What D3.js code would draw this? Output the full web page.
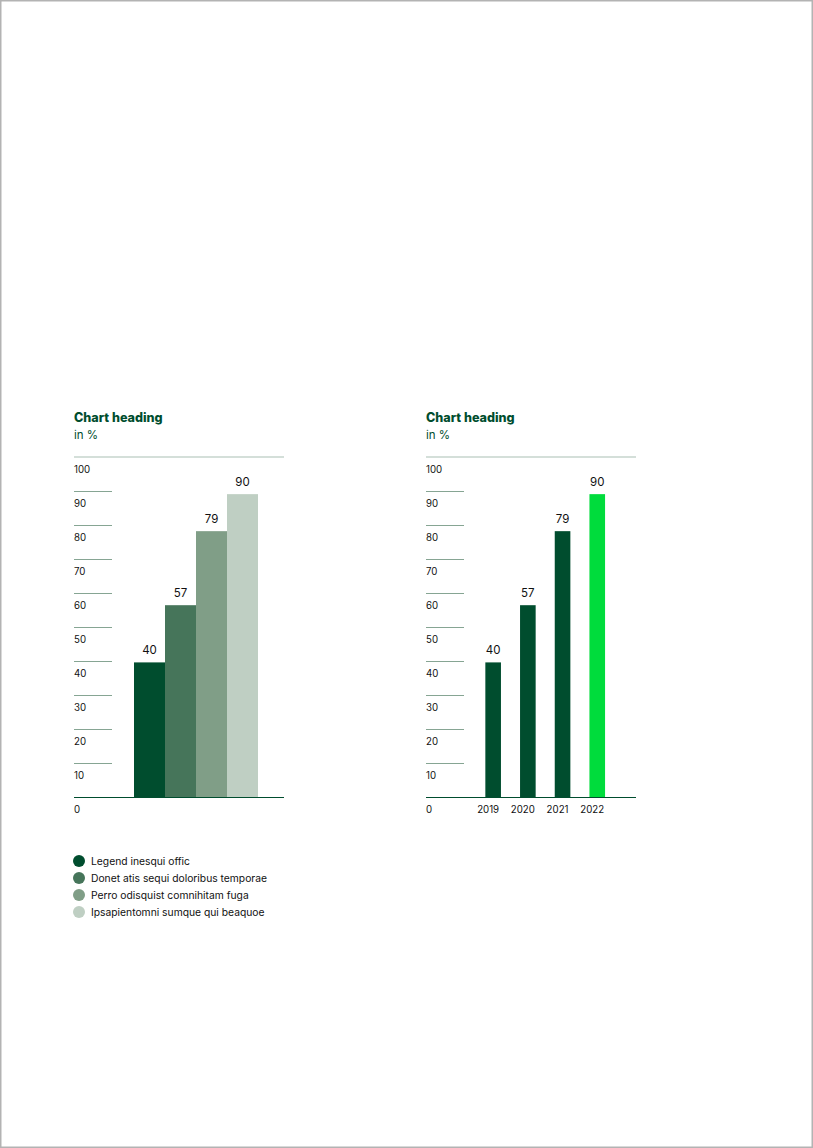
<!DOCTYPE html>
<html>
<head>
<meta charset="utf-8">
<script src="https://d3js.org/d3.v7.min.js"></script>
<style>
    html, body { margin: 0; padding: 0; background: #fff; }
    svg { display: block; font-family: Inter, "Noto Sans", sans-serif; }
</style>
</head>
<body>
<script>
    // data
    var values = [40, 57, 79, 90];
    var years = ["2019", "2020", "2021", "2022"];
    var legendLabels = [
        "Legend inesqui offic",
        "Donet atis sequi doloribus temporae",
        "Perro odisquist comnihitam fuga",
        "Ipsapientomni sumque qui beaquoe"
    ];
    var yTicks = [0, 10, 20, 30, 40, 50, 60, 70, 80, 90, 100];

    var greens = ["#004d2e", "#46755a", "#809e87", "#bfcfc3"];
    var darkGreen = "#004d2e";
    var brightGreen = "#00dc3c";
    var tickColor = "#86a593";
    var topLineColor = "#c6d4cd";

    var W = 813, H = 1148;

    var svg = d3.select("body")
        .append("svg")
        .attr("width", W)
        .attr("height", H);

    // page border
    svg.append("rect")
        .attr("x", 0.75).attr("y", 0.75)
        .attr("width", W - 1.5).attr("height", H - 1.5)
        .attr("fill", "none")
        .attr("stroke", "#b3b3b3")
        .attr("stroke-width", 1.5);

    var y = d3.scaleLinear().domain([0, 100]).range([797, 457]);
    // bars in the original sit a touch lower than the grid
    var barY = d3.scaleLinear().domain([0, 100]).range([797, 460.5]);

    // draws heading, y grid and labels; returns group
    function chartFrame(x0) {
        var g = svg.append("g").attr("transform", "translate(" + x0 + ",0)");

        g.append("text")
            .attr("x", 0).attr("y", 422)
            .attr("font-size", 12.6)
            .attr("font-weight", 800)
            .attr("fill", darkGreen)
            .text("Chart heading");
        g.append("text")
            .attr("x", 0).attr("y", 439)
            .attr("font-size", 11.5)
            .attr("fill", darkGreen)
            .text("in %");

        // top rule
        g.append("line")
            .attr("x1", 0).attr("x2", 210)
            .attr("y1", y(100)).attr("y2", y(100))
            .attr("stroke", topLineColor)
            .attr("stroke-width", 1.5);

        // short tick lines
        g.selectAll(".tk")
            .data(yTicks.filter(function(d) { return d > 0 && d < 100; }))
            .enter().append("line")
            .attr("x1", 0).attr("x2", 38)
            .attr("y1", function(d) { return y(d) + 0.5; })
            .attr("y2", function(d) { return y(d) + 0.5; })
            .attr("stroke", tickColor)
            .attr("stroke-width", 1);

        // tick labels below each line
        g.selectAll(".tl")
            .data(yTicks)
            .enter().append("text")
            .attr("x", 0)
            .attr("y", function(d) { return y(d) + 16; })
            .attr("font-size", 9.7)
            .attr("fill", "#111")
            .text(function(d) { return d; });

        return g;
    }

    function baseline(g) {
        g.append("line")
            .attr("x1", 0).attr("x2", 210)
            .attr("y1", y(0) + 0.5).attr("y2", y(0) + 0.5)
            .attr("stroke", darkGreen)
            .attr("stroke-width", 1.2);
    }

    // left chart: grouped bars
    var g1 = chartFrame(74);
    var x1 = d3.scaleBand().domain(legendLabels).range([60, 184]).padding(0);

    g1.selectAll(".bar")
        .data(values)
        .enter().append("rect")
        .attr("x", function(d, i) { return x1(legendLabels[i]); })
        .attr("y", function(d) { return barY(d); })
        .attr("width", x1.bandwidth())
        .attr("height", function(d) { return barY(0) - barY(d); })
        .attr("fill", function(d, i) { return greens[i]; });

    g1.selectAll(".val")
        .data(values)
        .enter().append("text")
        .attr("x", function(d, i) { return x1(legendLabels[i]) + x1.bandwidth() / 2; })
        .attr("y", function(d) { return barY(d) - 8; })
        .attr("text-anchor", "middle")
        .attr("font-size", 11.5)
        .attr("fill", "#111")
        .text(function(d) { return d; });

    baseline(g1);

    // legend
    var leg = svg.append("g").attr("transform", "translate(79,861)");
    leg.selectAll("circle")
        .data(legendLabels)
        .enter().append("circle")
        .attr("cx", 0)
        .attr("cy", function(d, i) { return i * 17; })
        .attr("r", 6)
        .attr("fill", function(d, i) { return greens[i]; });
    leg.selectAll("text")
        .data(legendLabels)
        .enter().append("text")
        .attr("x", 12)
        .attr("y", function(d, i) { return i * 17 + 3.5; })
        .attr("font-size", 10.3)
        .attr("fill", "#111")
        .text(function(d) { return d; });

    // right chart: yearly bars
    var g2 = chartFrame(426);
    var x2 = d3.scaleBand().domain(years).range([49.8, 188.6]).paddingInner(0.55).paddingOuter(0.275);

    g2.selectAll(".bar")
        .data(values)
        .enter().append("rect")
        .attr("x", function(d, i) { return x2(years[i]); })
        .attr("y", function(d) { return barY(d); })
        .attr("width", x2.bandwidth())
        .attr("height", function(d) { return barY(0) - barY(d); })
        .attr("fill", function(d, i) { return i === values.length - 1 ? brightGreen : darkGreen; });

    g2.selectAll(".val")
        .data(values)
        .enter().append("text")
        .attr("x", function(d, i) { return x2(years[i]) + x2.bandwidth() / 2; })
        .attr("y", function(d) { return barY(d) - 8; })
        .attr("text-anchor", "middle")
        .attr("font-size", 11.5)
        .attr("fill", "#111")
        .text(function(d) { return d; });

    g2.selectAll(".yr")
        .data(years)
        .enter().append("text")
        .attr("x", function(d) { return x2(d) + x2.bandwidth() / 2 - 5; })
        .attr("y", y(0) + 16)
        .attr("text-anchor", "middle")
        .attr("font-size", 9.7)
        .attr("fill", "#111")
        .text(function(d) { return d; });

    baseline(g2);
</script>
</body>
</html>
